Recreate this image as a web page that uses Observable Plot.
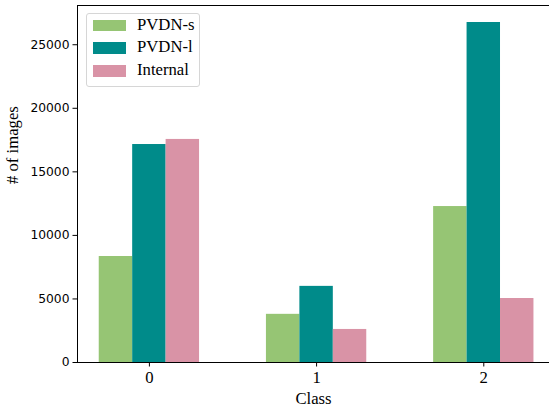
<!DOCTYPE html>
<html>
<head>
<meta charset="utf-8">
<script src="https://cdn.jsdelivr.net/npm/d3@7"></script>
<script src="https://cdn.jsdelivr.net/npm/@observablehq/plot@0.6"></script>
<style>
  html, body { margin: 0; padding: 0; background: #fff; }
  #wrap { position: relative; width: 549px; height: 410px; overflow: hidden; }
  #legend { position: absolute; left: 85.5px; top: 13px; width: 112px; height: 72px;
            border: 1px solid #d6d6d6; border-radius: 3px; background: rgba(255,255,255,0.85); color: #000; }
  .row { position: absolute; left: 0; height: 12px; }
  .sw { position: absolute; left: 6.5px; top: 0; width: 33px; height: 11.5px; }
  .lb { position: absolute; left: 50.5px; top: -5px; white-space: nowrap; line-height: 20px;
        font-family: "Liberation Serif", serif !important; font-size: 16.7px; }
  .serif text, text.serif { font-family: "Liberation Serif", serif !important; }
  .sans text { font-family: "DejaVu Sans", sans-serif !important; }
</style>
</head>
<body>
<div id="wrap"></div>
<script>
const classes = [0, 1, 2];
const seriesNames = ["PVDN-s", "PVDN-l", "Internal"];
const pvdnS = [8340, 3790, 12270];
const pvdnL = [17150, 5990, 26750];
const internal = [17550, 2600, 5035];
const seriesColors = ["#96c574", "#008b8a", "#d993a6"];
const yTicks = [0, 5000, 10000, 15000, 20000, 25000];
const xTickLabels = ["0", "1", "2"];

const seriesValues = [pvdnS, pvdnL, internal];
const barWidth = 0.2;
const rows = [];
seriesNames.forEach((s, si) => {
  classes.forEach((c, ci) => {
    const center = c + (si - 1) * barWidth;
    rows.push({series: s, x1: center - barWidth / 2, x2: center + barWidth / 2, value: seriesValues[si][ci]});
  });
});

const yMax = d3.max(seriesValues.flat()) * 1.05;
const xMin = -0.43;
const xMaxVisible = 2.393;

const chart = Plot.plot({
  width: 549,
  height: 410,
  marginLeft: 77,
  marginRight: 0,
  marginTop: 5,
  marginBottom: 48,
  style: {background: "#fff", overflow: "visible"},
  x: {type: "linear", domain: [xMin, xMaxVisible]},
  y: {domain: [0, yMax]},
  color: {domain: seriesNames, range: seriesColors},
  marks: [
    Plot.rect(rows, {x1: "x1", x2: "x2", y1: 0, y2: "value", fill: "series"}),
    Plot.ruleY([0], {stroke: "#000", strokeWidth: 1}),
    Plot.ruleY([yMax], {stroke: "#000", strokeWidth: 1}),
    Plot.ruleX([xMin], {stroke: "#000", strokeWidth: 1}),
    Plot.axisY({ticks: yTicks, tickSize: 4.5, tickPadding: 3.5, tickFormat: d => String(d),
      label: null, fontFamily: "DejaVu Sans", fontSize: 12.3, stroke: "#000", color: "#000",
      className: "sans"}),
    Plot.axisX({ticks: classes, tickSize: 4.5, tickPadding: 4, tickFormat: (d, i) => xTickLabels[i],
      label: null, fontFamily: "Liberation Serif", fontSize: 16.7, color: "#000", className: "serif"}),
    Plot.text(["Class"], {frameAnchor: "bottom", dy: 36.5, lineAnchor: "middle",
      fontFamily: "Liberation Serif", fontSize: 16.7, fill: "#000"}),
    Plot.text(["# of images"], {frameAnchor: "left", dx: -65.3, rotate: -90, lineAnchor: "middle",
      fontFamily: "Liberation Serif", fontSize: 16.7, fill: "#000"})
  ]
});

const wrap = document.getElementById("wrap");
wrap.appendChild(chart);

// make sure axis label fonts are applied
d3.select(chart).selectAll('g[aria-label="x-axis tick label"] text, g[aria-label="x-axis tick label"]')
  .style("font-family", '"Liberation Serif", serif').style("font-size", "16.7px");
d3.select(chart).selectAll('g[aria-label="y-axis tick label"] text, g[aria-label="y-axis tick label"]')
  .style("font-family", '"DejaVu Sans", sans-serif').style("font-size", "12.3px");

const legend = document.createElement("div");
legend.id = "legend";
seriesNames.forEach((s, i) => {
  const row = document.createElement("div");
  row.className = "row";
  row.style.top = (5.5 + i * 22.8) + "px";
  const sw = document.createElement("div");
  sw.className = "sw";
  sw.style.background = seriesColors[i];
  const lb = document.createElement("div");
  lb.className = "lb";
  lb.style.fontFamily = '"Liberation Serif", serif';
  lb.textContent = s;
  row.appendChild(sw);
  row.appendChild(lb);
  legend.appendChild(row);
});
wrap.appendChild(legend);
</script>
</body>
</html>
